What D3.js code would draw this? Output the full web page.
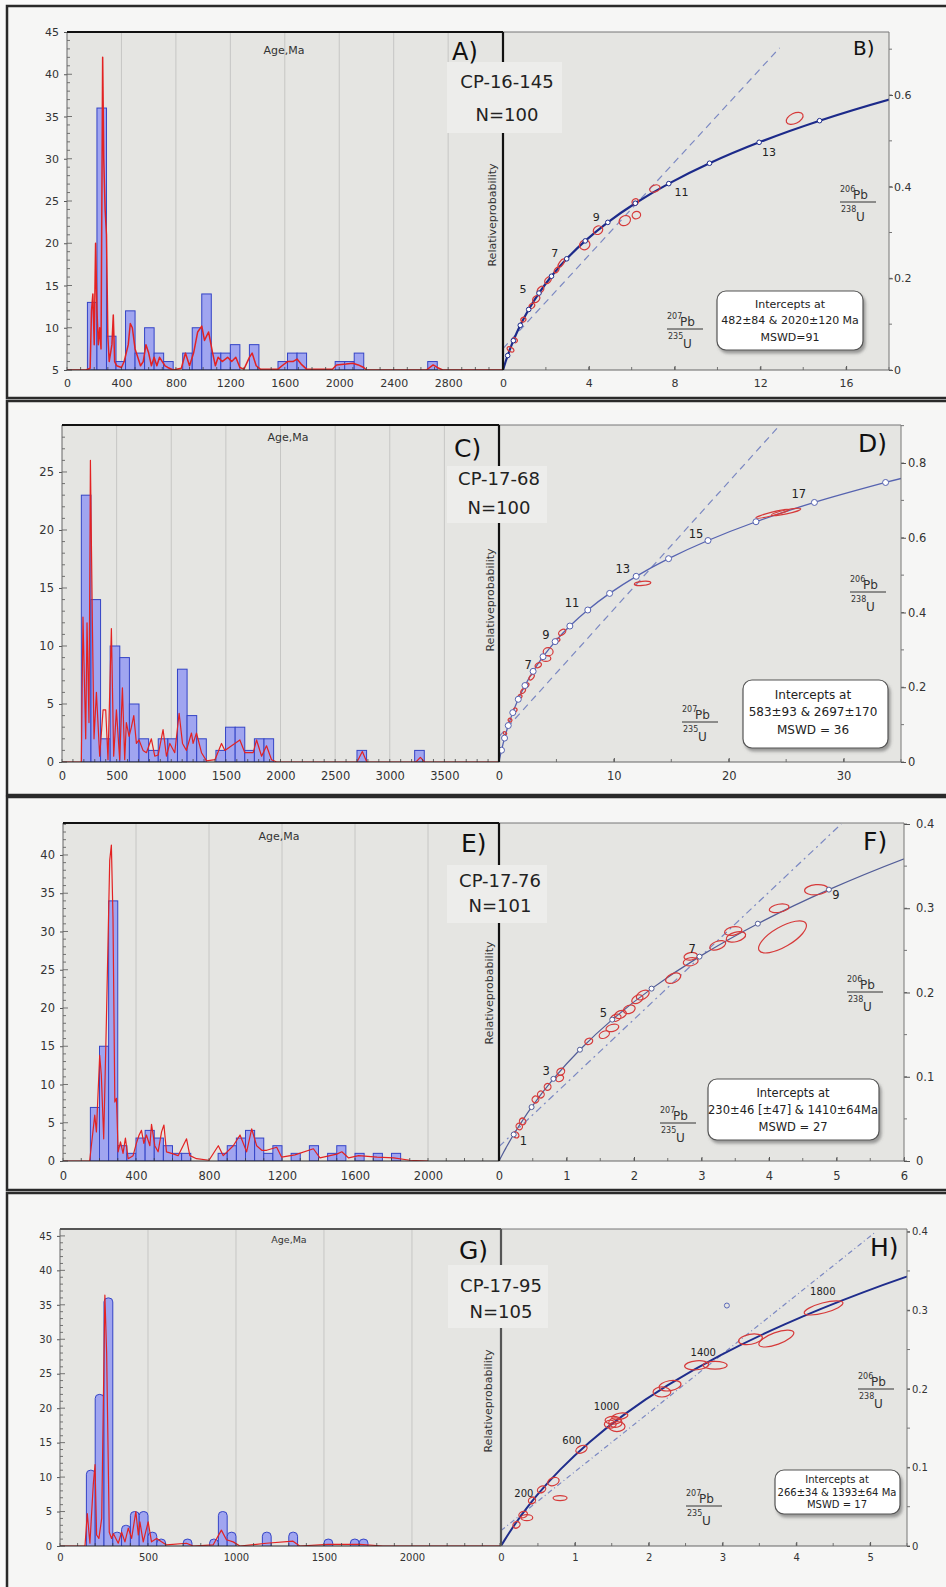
<!DOCTYPE html>
<html><head><meta charset="utf-8">
<script src="https://cdn.jsdelivr.net/npm/d3@7"></script>
<style>body{margin:0;background:#fafafa;} svg{display:block;font-family:"DejaVu Sans",sans-serif;}</style>
</head><body><svg id="c" width="946" height="1587"></svg>
<script>
// ---------------- DATA ----------------
// Concordia curve (age in Ga, 207Pb/235U, 206Pb/238U)
const concT = [0,0.05,0.1,0.2,0.4,0.6,0.8,1.0,1.2,1.4,1.6,1.8,2.0,2.2,2.4,2.6,2.8,3.0,3.2,3.4,3.6,3.64];
const concX = [0,0.0505,0.1035,0.2177,0.4828,0.8057,1.1987,1.6774,2.2604,2.9702,3.8347,4.8873,6.1692,7.7299,9.6304,11.9446,14.7627,18.1943,22.3731,27.4618,33.6582,35.04];
const concY = [0,0.0078,0.0156,0.0315,0.0640,0.0975,0.1321,0.1678,0.2046,0.2426,0.2817,0.3221,0.3638,0.4067,0.4511,0.4968,0.5440,0.5926,0.6428,0.6945,0.7479,0.7588];

// Panel A / B : CP-16-145
const binStartA = [150,220,290,360,430,500,570,640,710,850,920,990,1060,1130,1200,1340,1550,1620,1690,1970,2040,2110,2650];
const binCountA = [13,36,9,6,12,7,10,7,6,7,10,14,7,7,8,8,6,7,7,6,6,7,6];
const binWidthA = 70;
const pdpA = [[0,5],[140,5],[170,5.2],[180,12],[190,14],[200,8],[210,20],[220,12],[230,8],[240,10],[250,7.5],[262,42],[270,30],[280,24],[290,21],[300,9],[310,6],[330,8],[340,11.5],[350,6],[365,5.5],[400,5.3],[420,6],[450,8],[465,10.5],[480,10],[500,7.5],[520,6.5],[540,5.5],[560,6],[580,8],[600,7],[620,5.5],[640,6.5],[660,5.5],[680,6.5],[700,6],[720,5.5],[740,5.3],[780,5],[840,5.2],[870,7],[900,5.5],[930,7],[960,9.5],[990,10.2],[1010,8.5],[1040,9.5],[1070,7],[1090,5.5],[1110,6.5],[1140,6],[1180,6.5],[1210,6],[1240,6.5],[1270,5.3],[1300,5.1],[1340,6.5],[1360,7],[1390,5.5],[1420,5.1],[1550,5.1],[1580,5.5],[1620,6],[1660,6],[1690,6.3],[1720,5.7],[1760,5.1],[1950,5.1],[1980,5.6],[2050,5.7],[2100,5.8],[2140,5.6],[2180,5.3],[2200,5],[2640,5],[2690,5.6],[2720,5.3],[2760,5],[3203,5]];
const histXTicksA = [0,400,800,1200,1600,2000,2400,2800];
const histYTicksA = [5,10,15,20,25,30,35,40,45];
const concXTicksB = [0,4,8,12,16];
const concYTicksB = [0,0.2,0.4,0.6];
const markersB = [0.2,0.4,0.6,0.8,1.0,1.2,1.4,1.6,1.8,2.0,2.2,2.4,2.6,2.8];
const concLabelsB = [[0.93,0.176,"5"],[2.41,0.2545,"7"],[4.35,0.333,"9"],[8.32,0.387,"11"],[12.4,0.474,"13"]];
const discordiaB = [[0,0.0467],[12.9,0.703]];
const ellipsesB = [[13.6,0.549,0.42,0.011,-25],[7.08,0.396,0.25,0.0072,-20],[5.68,0.326,0.28,0.0103,-30],[6.22,0.338,0.2,0.008,-20],[6.17,0.367,0.16,0.0065,-30],[4.43,0.305,0.23,0.0087,-30],[3.81,0.273,0.25,0.0103,-30],[2.72,0.233,0.23,0.0044,-55],[2.50,0.218,0.15,0.004,-50],[2.10,0.196,0.19,0.0055,-45],[1.75,0.175,0.19,0.0055,-45],[1.55,0.155,0.19,0.0065,-40],[1.35,0.14,0.14,0.005,-40],[0.95,0.11,0.12,0.005,-40],[0.55,0.065,0.1,0.006,-50],[0.35,0.045,0.1,0.008,-60]];
const sampleA = ["CP-16-145","N=100"];
const interceptB = ["Intercepts at","482±84 & 2020±120 Ma","MSWD=91"];

// Panel C / D : CP-17-68
const binStartC = [177,265,353,441,529,617,705,793,881,969,1057,1145,1233,1409,1497,1585,1673,1761,1849,2700,3228];
const binCountC = [23,14,2,10,9,5,2,1,2,2,8,4,2,1,3,3,1,2,2,1,1];
const binWidthC = 88;
const pdpC = [[0,0],[177,0],[192,12.5],[217,2],[229,12],[247,3.4],[260,26],[278,12],[293,2],[315,6],[345,0.5],[376,4.5],[400,4.5],[421,0.2],[452,11.5],[473,0.5],[498,4.5],[528,0.2],[553,6.4],[574,0.2],[589,3.4],[614,2.2],[635,3],[657,4],[681,1.6],[705,1.9],[742,1],[773,0.8],[818,2],[849,0.5],[880,0.6],[925,2.8],[956,0.5],[987,1.6],[1032,0.8],[1072,4.2],[1103,1.6],[1139,1],[1185,2.5],[1200,1.6],[1231,2.5],[1277,0.8],[1323,0.1],[1400,0.2],[1460,1.6],[1491,1],[1536,1.3],[1628,1.9],[1674,0.8],[1750,0.8],[1781,1.9],[1827,0.5],[1872,1.4],[1918,0.2],[1964,0],[2700,0],[2749,0.9],[2790,0],[3240,0],[3280,0.4],[3320,0],[4000,0]];
const histXTicksC = [0,500,1000,1500,2000,2500,3000,3500];
const histYTicksC = [0,5,10,15,20,25];
const concXTicksD = [0,10,20,30];
const concYTicksD = [0,0.2,0.4,0.6,0.8];
const markersD = [0.2,0.4,0.6,0.8,1.0,1.2,1.4,1.6,1.8,2.0,2.2,2.4,2.6,2.8,3.0,3.2,3.4,3.6];
const concLabelsD = [[2.54,0.2595,"7"],[4.08,0.3398,"9"],[6.36,0.4246,"11"],[10.78,0.5164,"13"],[17.15,0.610,"15"],[26.1,0.717,"17"]];
const discordiaD = [[0,0.068],[24.3,0.896]];
const ellipsesD = [[23.8,0.664,1.48,0.0045,-14],[25.0,0.669,1.3,0.0053,-12],[12.5,0.478,0.72,0.0054,-5],[5.5,0.347,0.35,0.0067,-35],[5.07,0.326,0.25,0.005,-30],[4.28,0.295,0.43,0.011,0],[4.08,0.277,0.43,0.008,0],[3.42,0.259,0.3,0.006,-30],[2.84,0.227,0.3,0.005,-50],[2.4,0.205,0.25,0.005,-50],[2.1,0.19,0.25,0.005,-50],[1.82,0.175,0.2,0.005,-55],[1.39,0.139,0.2,0.005,-55],[0.96,0.112,0.15,0.005,-50],[0.52,0.077,0.12,0.005,-50]];
const sampleC = ["CP-17-68","N=100"];
const interceptD = ["Intercepts at","583±93 & 2697±170","MSWD = 36"];

// Panel E / F : CP-17-76
const binStartE = [150,200,250,300,350,400,450,500,550,600,650,850,900,950,1000,1050,1100,1150,1250,1350,1450,1500,1600,1700,1800];
const binCountE = [7,15,34,2,1,3,4,3,2,1,1,1,2,3,4,3,1,2,1,2,1,2,1,1,1];
const binWidthE = 50;
const pdpE = [[0,0],[146,0],[174,6],[183,3.8],[201,13.8],[210,11.2],[223,2.9],[238,18.6],[256,39.3],[265,41.3],[274,31.7],[284,7.7],[293,8.2],[302,1.2],[315,2.5],[329,1],[342,3],[357,0.3],[384,0.7],[402,2.3],[417,3.4],[430,4],[443,2.3],[457,3.4],[476,2],[485,4.8],[503,2],[521,1.2],[540,3.8],[553,4.7],[567,1.2],[595,1],[631,0.7],[677,2.9],[695,0.7],[732,0.3],[800,0.1],[851,2],[878,0.7],[933,2],[970,3.4],[1006,1.2],[1034,4.2],[1061,2],[1089,1.4],[1116,1.4],[1171,1.8],[1198,0.5],[1271,0.8],[1372,1.6],[1408,0.4],[1463,0.7],[1500,0.9],[1528,1.2],[1565,0.4],[1620,0.7],[1721,0.5],[1812,0.4],[1900,0.1],[2000,0]];
const histXTicksE = [0,400,800,1200,1600,2000];
const histYTicksE = [0,5,10,15,20,25,30,35,40];
const concXTicksF = [0,1,2,3,4,5,6];
const concYTicksF = [0,0.1,0.2,0.3,0.4];
const markersF = [0.2,0.4,0.6,0.8,1.0,1.2,1.4,1.6,1.8];
const concLabelsF = [[0.361,0.0238,"1"],[0.70,0.107,"3"],[1.548,0.1753,"5"],[2.86,0.2518,"7"],[4.99,0.3159,"9"]];
const discordiaF = [[0,0.017],[5.07,0.4]];
const ellipsesF = [[4.70,0.322,0.173,0.006,-5],[4.15,0.300,0.148,0.0048,-10],[4.20,0.266,0.40,0.0119,-30],[3.51,0.266,0.148,0.0056,-15],[3.47,0.273,0.13,0.005,-10],[3.24,0.256,0.124,0.0048,-20],[2.84,0.2365,0.111,0.0048,-10],[2.84,0.243,0.1,0.0045,-10],[2.58,0.217,0.119,0.0053,-25],[2.13,0.197,0.104,0.0048,-30],[2.05,0.192,0.09,0.0045,-30],[1.93,0.18,0.09,0.0048,-20],[1.80,0.174,0.09,0.0045,-20],[1.73,0.17,0.08,0.004,-20],[1.68,0.158,0.097,0.0042,-15],[1.56,0.15,0.08,0.004,-25],[1.33,0.142,0.06,0.0036,-20],[0.915,0.106,0.06,0.004,-30],[0.90,0.098,0.06,0.0036,-30],[0.72,0.088,0.05,0.004,-40],[0.62,0.079,0.05,0.004,-40],[0.54,0.073,0.05,0.004,-40],[0.35,0.047,0.045,0.004,-45],[0.30,0.041,0.045,0.004,-45],[0.25,0.031,0.04,0.004,-45]];
const sampleE = ["CP-17-76","N=101"];
const interceptF = ["Intercepts at","230±46 [±47] & 1410±64Ma","MSWD = 27"];

// Panel G / H : CP-17-95
const binStartG = [150,200,250,300,350,400,450,500,550,700,850,900,950,1150,1300,1500,1650,1700];
const binCountG = [11,22,36,2,3,5,5,2,1,1,1,5,2,2,2,1,1,1];
const binWidthG = 50;
const pdpG = [[0,0],[142,0],[155,4.7],[170,0.4],[189,8.9],[199,11.8],[208,1.6],[221,1.1],[237,4],[255,36.4],[265,28],[280,2],[293,1.1],[303,1.8],[331,0.4],[350,2],[369,0.6],[388,2.6],[407,1.1],[431,5],[445,1.6],[454,3.5],[473,0.6],[501,3.5],[520,0.6],[549,1.1],[577,0.6],[605,0.15],[719,0.4],[757,0],[870,0.15],[917,2.3],[946,0.9],[984,0.6],[1022,0],[1173,0.4],[1324,0.7],[1362,0],[1523,0.25],[1703,0.25],[1835,0],[2506,0]];
const histXTicksG = [0,500,1000,1500,2000];
const histYTicksG = [0,5,10,15,20,25,30,35,40,45];
const concXTicksH = [0,1,2,3,4,5];
const concYTicksH = [0,0.1,0.2,0.3,0.4];
const markersH = [];
const concLabelsH = [[0.31,0.067,"200"],[0.96,0.134,"600"],[1.43,0.177,"1000"],[2.74,0.246,"1400"],[4.36,0.324,"1800"]];
const discordiaH = [[0,0.0196],[5.08,0.4]];
const ellipsesH = [[4.37,0.303,0.271,0.0064,-15],[3.73,0.264,0.25,0.0076,-20],[3.38,0.263,0.163,0.0064,-10],[2.90,0.230,0.163,0.005,0],[2.65,0.230,0.163,0.0057,-5],[2.29,0.204,0.15,0.0064,-10],[2.18,0.196,0.12,0.0064,0],[1.61,0.165,0.11,0.004,-10],[1.52,0.16,0.11,0.005,0],[1.57,0.152,0.11,0.0064,0],[1.48,0.155,0.08,0.005,0],[1.55,0.157,0.09,0.006,0],[1.09,0.123,0.081,0.0045,-25],[0.80,0.061,0.095,0.0032,0],[0.71,0.082,0.08,0.005,-20],[0.55,0.072,0.06,0.004,-30],[0.42,0.058,0.05,0.004,-30],[0.30,0.040,0.06,0.004,-20],[0.35,0.036,0.08,0.0038,0],[0.21,0.027,0.05,0.004,-30]];
const outliersH = [[3.06,0.306]];
const sampleG = ["CP-17-95","N=105"];
const interceptH = ["Intercepts at","266±34 & 1393±64 Ma","MSWD = 17"];

const lettersHist = ["A)","C)","E)","G)"];
const lettersConc = ["B)","D)","F)","H)"];

// ---------------- DRAWING ----------------
const svg = d3.select("#c");
const defs = svg.append("defs");
const flt = defs.append("filter").attr("id","shadow").attr("x","-20%").attr("y","-20%").attr("width","140%").attr("height","150%");
flt.append("feDropShadow").attr("dx",2).attr("dy",3).attr("stdDeviation",1.8).attr("flood-color","#666").attr("flood-opacity",0.6);

const concPts = concT.map((t,i)=>[concX[i],concY[i]]);

function drawPanel(P, L) {
  const g = svg.append("g");
  const H = L.hist, C = L.conc;
  g.append("rect").attr("x",L.box[0]).attr("y",L.box[1]).attr("width",L.box[2]-L.box[0]).attr("height",L.box[3]-L.box[1])
    .attr("fill","#f6f6f5").attr("stroke","#2a2a2a").attr("stroke-width",2.5);
  const hx = d3.scaleLinear().domain(L.hxDom).range([H.l,H.r]);
  const hy = d3.scaleLinear().domain(L.hyDom).range([H.b,H.t]);
  const cx = d3.scaleLinear().domain(L.cxDom).range([C.l,C.r]);
  const cy = d3.scaleLinear().domain(L.cyDom).range([C.b,C.t]);
  const bg = "#e5e5e2";
  g.append("rect").attr("x",H.l).attr("y",H.t).attr("width",H.r-H.l).attr("height",H.b-H.t).attr("fill",bg);
  g.append("rect").attr("x",C.l).attr("y",C.t).attr("width",C.r-C.l).attr("height",C.b-C.t).attr("fill",bg);
  const idH = "ch"+L.id, idC = "cc"+L.id;
  defs.append("clipPath").attr("id",idH).append("rect").attr("x",H.l).attr("y",H.t).attr("width",H.r-H.l).attr("height",H.b-H.t);
  defs.append("clipPath").attr("id",idC).append("rect").attr("x",C.l).attr("y",C.t).attr("width",C.r-C.l).attr("height",C.b-C.t);

  // histogram grid
  g.append("g").selectAll("line").data(P.hxTicks.filter(v=>v>0)).join("line")
    .attr("x1",d=>hx(d)).attr("x2",d=>hx(d)).attr("y1",H.t).attr("y2",H.b).attr("stroke","#c6c6c4").attr("stroke-width",1);

  // bars
  const base = L.hyDom[0];
  const bars = g.append("g").attr("clip-path",`url(#${idH})`);
  bars.selectAll("rect").data(P.binStart.map((s,i)=>({s:s,c:P.binCount[i]}))).join("rect")
    .attr("x",d=>hx(d.s)).attr("width",d=>hx(d.s+P.binWidth)-hx(d.s))
    .attr("y",d=>hy(d.c)).attr("height",d=>hy(base)-hy(d.c)+(L.round?8:0))
    .attr("rx",L.round?4:0)
    .attr("fill","#a0a5f0").attr("stroke","#3444c6").attr("stroke-width",1);

  // probability density curve
  bars.append("path").datum(P.pdp)
    .attr("d",d3.line().x(d=>hx(d[0])).y(d=>hy(d[1])))
    .attr("fill","none").attr("stroke","#e32222").attr("stroke-width",L.pdpW).attr("stroke-linejoin","round");

  // histogram minor ticks
  const hyMin = d3.range(Math.ceil(L.hyDom[0]), L.hyDom[1]+1e-9, 1);
  g.append("g").selectAll("line").data(hyMin).join("line")
    .attr("x1",H.l).attr("x2",d=> (d % 5 === 0) ? H.l+5 : H.l+3).attr("y1",d=>hy(d)).attr("y2",d=>hy(d))
    .attr("stroke","#555").attr("stroke-width",0.8);
  const hxMin = d3.range(0, L.hxDom[1], 100);
  g.append("g").selectAll("line").data(hxMin).join("line")
    .attr("x1",d=>hx(d)).attr("x2",d=>hx(d)).attr("y1",H.b).attr("y2",H.b-3)
    .attr("stroke","#444").attr("stroke-width",0.8);

  // histogram axes
  const axL = g.append("g").attr("transform",`translate(${H.l},0)`)
    .call(d3.axisLeft(hy).tickValues(P.hyTicks).tickSize(3).tickPadding(5).tickFormat(d3.format("d")));
  axL.select(".domain").remove();
  axL.selectAll("text").attr("font-size",L.tickFont).attr("fill","#333").attr("font-family","DejaVu Sans");
  axL.selectAll(".tick line").attr("stroke","#555");
  const axB = g.append("g").attr("transform",`translate(0,${H.b})`)
    .call(d3.axisBottom(hx).tickValues(P.hxTicks).tickSize(0).tickFormat(d3.format("d")));
  axB.select(".domain").remove();
  axB.selectAll("text").attr("y",L.xLabBase-H.b).attr("dy",null).attr("font-size",L.tickFont).attr("fill","#333").attr("font-family","DejaVu Sans");

  // concordia minor ticks
  const cxMin = d3.range(0, L.cxDom[1]+1e-9, L.cxMinor);
  g.append("g").selectAll("line").data(cxMin).join("line")
    .attr("x1",d=>cx(d)).attr("x2",d=>cx(d)).attr("y1",C.b).attr("y2",C.b-3).attr("stroke","#555").attr("stroke-width",0.8);
  const cyMin = d3.range(0, L.cyDom[1]+1e-9, L.cyMinor);
  g.append("g").selectAll("line").data(cyMin).join("line")
    .attr("x1",C.r).attr("x2",C.r+3).attr("y1",d=>cy(d)).attr("y2",d=>cy(d)).attr("stroke","#555").attr("stroke-width",0.8);

  // concordia axes
  const axCB = g.append("g").attr("transform",`translate(0,${C.b})`)
    .call(d3.axisBottom(cx).tickValues(P.cxTicks).tickSize(-4).tickFormat(d=>String(d)));
  axCB.select(".domain").remove();
  axCB.selectAll("text").attr("y",L.xLabBase-C.b).attr("dy",null).attr("font-size",L.tickFont).attr("fill","#333").attr("font-family","DejaVu Sans");
  axCB.selectAll(".tick line").attr("stroke","#555");
  const axCR = g.append("g").attr("transform",`translate(${C.r},0)`)
    .call(d3.axisRight(cy).tickValues(P.cyTicks).tickSize(L.cyTick).tickPadding(L.cyPad).tickFormat(d=>String(d)));
  axCR.select(".domain").remove();
  axCR.selectAll("text").attr("font-size",L.tickFont).attr("fill","#333").attr("font-family","DejaVu Sans");
  axCR.selectAll(".tick line").attr("stroke","#555");

  // concordia content
  const cc = g.append("g").attr("clip-path",`url(#${idC})`);
  cc.append("line")
    .attr("x1",cx(P.discordia[0][0])).attr("y1",cy(P.discordia[0][1]))
    .attr("x2",cx(P.discordia[1][0])).attr("y2",cy(P.discordia[1][1]))
    .attr("stroke","#7b88c2").attr("stroke-width",1.2).attr("stroke-dasharray",L.dash);
  cc.append("path").datum(concPts)
    .attr("d",d3.line().x(d=>cx(d[0])).y(d=>cy(d[1])).curve(d3.curveCatmullRom))
    .attr("fill","none").attr("stroke",L.concStroke).attr("stroke-width",L.concWidth);
  cc.selectAll("ellipse").data(P.ellipses).join("ellipse")
    .attr("transform",d=>`translate(${cx(d[0])},${cy(d[1])}) rotate(${d[4]})`)
    .attr("rx",d=>cx(d[2])-cx(0)).attr("ry",d=>cy(0)-cy(d[3]))
    .attr("fill","none").attr("stroke","#d63a3a").attr("stroke-width",1.2);
  if (L.markR > 0) {
    cc.selectAll("circle.mk").data(P.markers).join("circle").attr("class","mk")
      .attr("cx",t=>cx(concX[concT.indexOf(t)])).attr("cy",t=>cy(concY[concT.indexOf(t)]))
      .attr("r",L.markR).attr("fill","#fff").attr("stroke",L.concStroke).attr("stroke-width",1);
  }
  if (P.outliers) {
    cc.selectAll("circle.ol").data(P.outliers).join("circle").attr("class","ol")
      .attr("cx",d=>cx(d[0])).attr("cy",d=>cy(d[1])).attr("r",2.5)
      .attr("fill","none").attr("stroke","#5a68b8").attr("stroke-width",1);
  }
  g.append("g").selectAll("text").data(P.concLabels).join("text")
    .attr("x",d=>cx(d[0])).attr("y",d=>cy(d[1])).attr("text-anchor","middle").attr("dominant-baseline","central")
    .attr("font-size",L.labFont).attr("fill","#222").text(d=>d[2]);

  // frames
  g.append("line").attr("x1",H.l).attr("x2",H.l).attr("y1",H.t).attr("y2",H.b).attr("stroke","#666").attr("stroke-width",1);
  g.append("line").attr("x1",H.l).attr("x2",H.r).attr("y1",H.t).attr("y2",H.t).attr("stroke",L.topStroke).attr("stroke-width",2);
  g.append("line").attr("x1",H.l).attr("x2",H.r).attr("y1",H.b).attr("y2",H.b).attr("stroke","#222").attr("stroke-width",1.2);
  g.append("line").attr("x1",C.l).attr("x2",C.r).attr("y1",C.t).attr("y2",C.t).attr("stroke","#777").attr("stroke-width",1);
  g.append("line").attr("x1",C.r).attr("x2",C.r).attr("y1",C.t).attr("y2",C.b).attr("stroke","#777").attr("stroke-width",1);
  g.append("line").attr("x1",C.l).attr("x2",C.r).attr("y1",C.b).attr("y2",C.b).attr("stroke","#666").attr("stroke-width",1.2);
  g.append("line").attr("x1",H.r).attr("x2",H.r).attr("y1",H.t).attr("y2",H.b).attr("stroke",L.divStroke).attr("stroke-width",2.2);

  // sample label box
  g.append("rect").attr("x",L.sBox[0]).attr("y",L.sBox[1]).attr("width",L.sBox[2]).attr("height",L.sBox[3]).attr("fill","#ededeb");
  g.append("text").attr("x",L.sText[0]).attr("y",L.sText[1]).attr("text-anchor","middle").attr("font-size",L.sText[3]).attr("fill","#222").text(P.sample[0]);
  g.append("text").attr("x",L.sText[0]).attr("y",L.sText[2]).attr("text-anchor","middle").attr("font-size",L.sText[3]).attr("fill","#222").text(P.sample[1]);

  // panel letters
  g.append("text").attr("x",L.histLetter[0]).attr("y",L.histLetter[1]).attr("font-size",L.histLetter[2]).attr("fill","#111").text(P.letterH);
  g.append("text").attr("x",L.concLetter[0]).attr("y",L.concLetter[1]).attr("font-size",L.concLetter[2]).attr("fill","#111").text(P.letterC);

  // axis titles
  g.append("text").attr("x",L.age[0]).attr("y",L.age[1]).attr("text-anchor","middle").attr("font-size",L.age[2]).attr("fill","#333").text("Age,Ma");
  g.append("text").attr("transform",`translate(${L.rel[0]},${L.rel[1]}) rotate(-90)`).attr("text-anchor","middle")
    .attr("font-size",L.rel[2]).attr("fill","#333").text("Relativeprobability");
  frac(g, L.f207, "207", "235");
  frac(g, L.f206, "206", "238");

  // intercept box
  g.append("rect").attr("x",L.iBox[0]).attr("y",L.iBox[1]).attr("width",L.iBox[2]).attr("height",L.iBox[3]).attr("rx",9)
    .attr("fill","#fff").attr("stroke","#555").attr("stroke-width",1.2).attr("filter","url(#shadow)");
  P.intercept.forEach((t,i)=>{
    g.append("text").attr("x",L.iText[0]).attr("y",L.iText[i+1]).attr("text-anchor","middle")
      .attr("font-size",L.iFont).attr("fill","#222").text(t);
  });
}

function frac(g, o, top, bot) {
  const f = g.append("g").attr("transform",`translate(${o[0]},${o[1]})`).attr("fill","#333");
  f.append("text").attr("x",0).attr("y",-10).attr("font-size",8).text(top);
  f.append("text").attr("x",13).attr("y",-3).attr("font-size",12).text("Pb");
  f.append("line").attr("x1",0).attr("x2",36).attr("y1",0).attr("y2",0).attr("stroke","#333").attr("stroke-width",1);
  f.append("text").attr("x",1).attr("y",10).attr("font-size",8).text(bot);
  f.append("text").attr("x",16).attr("y",19).attr("font-size",12).text("U");
}

drawPanel(
  {binStart:binStartA, binCount:binCountA, binWidth:binWidthA, pdp:pdpA, hxTicks:histXTicksA, hyTicks:histYTicksA,
   cxTicks:concXTicksB, cyTicks:concYTicksB, markers:markersB, concLabels:concLabelsB, discordia:discordiaB,
   ellipses:ellipsesB, sample:sampleA, intercept:interceptB, letterH:lettersHist[0], letterC:lettersConc[0]},
  {id:"A", box:[7,6,955,398], hist:{l:67,r:503,t:32,b:370}, hxDom:[0,3203], hyDom:[5,45],
   conc:{l:503,r:889,t:32,b:370}, cxDom:[0,18], cyDom:[0,0.7375],
   tickFont:11, xLabBase:387, cyTick:4, cyPad:1, cxMinor:2, cyMinor:0.1, pdpW:1.5,
   age:[284,54,11], histLetter:[452,60,24], concLetter:[853,55,20],
   sBox:[447,62,115,71], sText:[507,88,121,18], rel:[496,215,11],
   f207:[667,329], f206:[840,202], iBox:[717,291,146,59], iText:[790,308,324,341], iFont:11,
   labFont:11, concStroke:"#1c2a8a", concWidth:2.2, markR:2.3, round:false, dash:"7,5",
   topStroke:"#111", divStroke:"#111"});

drawPanel(
  {binStart:binStartC, binCount:binCountC, binWidth:binWidthC, pdp:pdpC, hxTicks:histXTicksC, hyTicks:histYTicksC,
   cxTicks:concXTicksD, cyTicks:concYTicksD, markers:markersD, concLabels:concLabelsD, discordia:discordiaD,
   ellipses:ellipsesD, sample:sampleC, intercept:interceptD, letterH:lettersHist[1], letterC:lettersConc[1]},
  {id:"C", box:[7,401,955,795], hist:{l:62,r:499,t:425,b:762}, hxDom:[0,4000], hyDom:[0,29.05],
   conc:{l:499,r:901,t:425,b:762}, cxDom:[0,35], cyDom:[0,0.9017],
   tickFont:11.5, xLabBase:780, cyTick:5, cyPad:2, cxMinor:5, cyMinor:0.1, pdpW:1.2,
   age:[288,441,11], histLetter:[454,457,25], concLetter:[858,452,25],
   sBox:[447,466,100,57], sText:[499,485,514,18], rel:[494,600,11],
   f207:[682,722], f206:[850,592], iBox:[743,680,145,68], iText:[813,699,716,734], iFont:12,
   labFont:11.5, concStroke:"#5663b0", concWidth:1.3, markR:3, round:false, dash:"7,5",
   topStroke:"#111", divStroke:"#111"});

drawPanel(
  {binStart:binStartE, binCount:binCountE, binWidth:binWidthE, pdp:pdpE, hxTicks:histXTicksE, hyTicks:histYTicksE,
   cxTicks:concXTicksF, cyTicks:concYTicksF, markers:markersF, concLabels:concLabelsF, discordia:discordiaF,
   ellipses:ellipsesF, sample:sampleE, intercept:interceptF, letterH:lettersHist[2], letterC:lettersConc[2]},
  {id:"E", box:[7,797,955,1190], hist:{l:63,r:499,t:823,b:1161}, hxDom:[0,2389], hyDom:[0,44.18],
   conc:{l:499,r:904,t:823,b:1161}, cxDom:[0,6], cyDom:[0,0.4012],
   tickFont:11.5, xLabBase:1180, cyTick:6, cyPad:6, cxMinor:0.5, cyMinor:0.05, pdpW:1.2,
   age:[279,840,11], histLetter:[461,852,25], concLetter:[863,850,25],
   sBox:[447,865,100,58], sText:[500,887,912,18], rel:[493,993,11],
   f207:[660,1123], f206:[847,992], iBox:[708,1079,171,61], iText:[793,1097,1114,1131], iFont:11.5,
   labFont:11.5, concStroke:"#525d98", concWidth:1.2, markR:2.5, round:false, dash:"7,4,2,4",
   topStroke:"#111", divStroke:"#111"});

drawPanel(
  {binStart:binStartG, binCount:binCountG, binWidth:binWidthG, pdp:pdpG, hxTicks:histXTicksG, hyTicks:histYTicksG,
   cxTicks:concXTicksH, cyTicks:concYTicksH, markers:markersH, concLabels:concLabelsH, discordia:discordiaH,
   ellipses:ellipsesH, outliers:outliersH, sample:sampleG, intercept:interceptH, letterH:lettersHist[3], letterC:lettersConc[3]},
  {id:"G", box:[7,1193,955,1595], hist:{l:60,r:501,t:1229,b:1546}, hxDom:[0,2506], hyDom:[0,46],
   conc:{l:501,r:907,t:1229,b:1546}, cxDom:[0,5.5], cyDom:[0,0.4034],
   tickFont:10, xLabBase:1561, cyTick:3, cyPad:2, cxMinor:0.5, cyMinor:0.05, pdpW:1.2,
   age:[289,1243,9.5], histLetter:[459,1259,25], concLetter:[870,1256,25],
   sBox:[448,1265,100,63], sText:[501,1292,1318,18], rel:[492,1401,11],
   f207:[686,1506], f206:[858,1389], iBox:[775,1470,125,44], iText:[837,1483,1496,1508], iFont:10,
   labFont:10, concStroke:"#1f2d8c", concWidth:2, markR:0, round:true, dash:"5,3,1,3",
   topStroke:"#555", divStroke:"#555"});
</script></body></html>
